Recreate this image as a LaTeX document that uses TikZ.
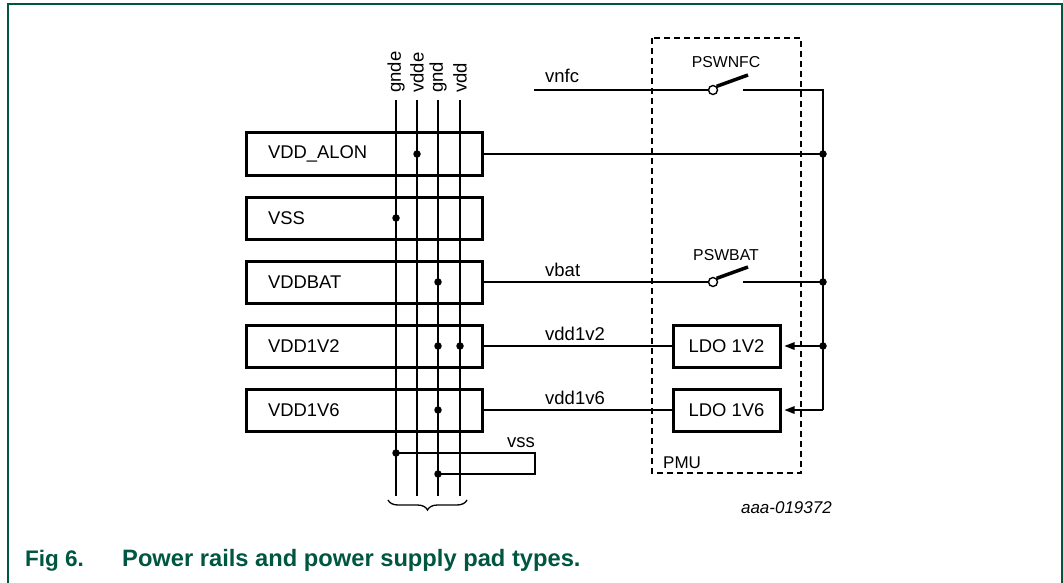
\documentclass[tikz,border=0pt]{standalone}
\usepackage{fontspec}
\setmainfont{Liberation Sans}
\usetikzlibrary{arrows.meta,decorations.pathreplacing}
\definecolor{nxpgreen}{RGB}{0,86,64}
\begin{document}
\begin{tikzpicture}[x=1pt,y=-1pt,
  padbox/.style={draw,line width=3pt,minimum width=236pt,minimum height=42pt,inner xsep=22pt,text width=192pt,align=left,font=\fontsize{18.4}{20}\selectfont},
  ldobox/.style={draw,line width=3pt,minimum width=107pt,minimum height=42pt,font=\fontsize{18.4}{20}\selectfont},
  wire/.style={line width=1.4pt},
  lbl/.style={inner sep=0pt,font=\fontsize{18.5}{20}\selectfont},
  slbl/.style={inner sep=0pt,font=\fontsize{15.8}{18}\selectfont},
  dot/.style={circle,fill,inner sep=0pt,minimum size=7.5pt},
  arr/.style={wire,-{Triangle[length=10pt,width=7.5pt]},shorten >=3pt}
]
\useasboundingbox (0,0) rectangle (1063,583);
% frame
\draw[nxpgreen,line width=2pt] (8.3,590) -- (8.3,4.3) -- (1062,4.3) -- (1062,590);

% rails
\foreach \n/\x/\t in {gnde/396/gnde, vdde/417/vdde, gnd/438/gnd, vdd/460/vdd}{
  \coordinate (\n top) at (\x,100);
  \coordinate (\n bot) at (\x,496);
  \node[lbl,rotate=90,anchor=west] (\n lab) at (\x,93) {\t};
}

% pad boxes
\node[padbox] (alon) at (364,154) {VDD\_ALON};
\node[padbox] (vssb) at (364,218) {VSS};
\node[padbox] (bat) at (364,282) {VDDBAT};
\node[padbox] (v12) at (364,346) {VDD1V2};
\node[padbox] (v16) at (364,410) {VDD1V6};

% rails cross the boxes
\foreach \n in {gnde,vdde,gnd,vdd}{ \draw[wire] (\n top) -- (\n bot); }

% dots on rails
\node[dot] (d1) at (417,154) {};
\node[dot] (d2) at (396,218) {};
\node[dot] (d3) at (438,282) {};
\node[dot] (d4) at (438,346) {};
\node[dot] (d5) at (460,346) {};
\node[dot] (d6) at (438,410) {};
\node[dot] (d7) at (396,453) {};
\node[dot] (d8) at (438,474) {};

% vss loop
\coordinate (vs1) at (535,453);
\coordinate (vs2) at (535,474);
\draw[wire] (d7.center) -- (vs1) -- (vs2) -- (d8.center);
\node[lbl,anchor=base west] (vsslab) at (507,447) {vss};

% brace
\draw[line width=1.3pt,decorate,decoration={brace,mirror,amplitude=10pt}] (388,500) -- (467,500);

% PMU box
\draw[wire,dash pattern=on 6pt off 4pt] (652,38) rectangle (801,473);
\node[inner sep=0pt,anchor=base west,font=\fontsize{17}{18}\selectfont] (pmu) at (663,468) {PMU};

% right bus
\coordinate (bustop) at (823,90);
\coordinate (busbot) at (823,410);
\node[dot] (b1) at (823,154) {};
\node[dot] (b2) at (823,282) {};
\node[dot] (b3) at (823,346) {};

% NFC switch
\coordinate (vnfcstart) at (534,90);
\node[circle,draw,line width=1.4pt,fill=white,inner sep=0pt,minimum size=9pt] (swn) at (713,90) {};
\coordinate (swnend) at (748,75);
\coordinate (swnout) at (743,90);
\draw[wire] (vnfcstart) -- (swn.west);
\draw[line width=3.5pt] (swn.north east) -- (swnend);
\draw[wire] (swnout) -- (bustop) -- (busbot);
\node[lbl,anchor=base west] (vnfclab) at (545,83) {vnfc};
\node[slbl,anchor=base] (pswnfc) at (726,68) {PSWNFC};

% VDD_ALON line
\draw[wire] (alon.east) -- (b1.center);

% BAT switch
\node[circle,draw,line width=1.4pt,fill=white,inner sep=0pt,minimum size=9pt] (swb) at (713,282) {};
\coordinate (swbend) at (748,267);
\coordinate (swbout) at (743,282);
\draw[wire] (bat.east) -- (swb.west);
\draw[line width=3.5pt] (swb.north east) -- (swbend);
\draw[wire] (swbout) -- (b2.center);
\node[lbl,anchor=base west] (vbatlab) at (545,276) {vbat};
\node[slbl,anchor=base] (pswbat) at (726,260) {PSWBAT};

% LDOs
\node[ldobox] (ldo12) at (726.5,346) {LDO 1V2};
\node[ldobox] (ldo16) at (726.5,410) {LDO 1V6};
\draw[wire] (v12.east) -- (ldo12.west);
\draw[wire] (v16.east) -- (ldo16.west);
\draw[arr] (b3.center) -- (ldo12.east);
\draw[arr] (busbot) -- (ldo16.east);
\node[lbl,anchor=base west] (l12) at (545,340) {vdd1v2};
\node[lbl,anchor=base west] (l16) at (545,404) {vdd1v6};

% figure id
\node[inner sep=0pt,anchor=base east,font=\fontsize{17}{18}\selectfont\itshape] (figid) at (832,513) {aaa-019372};

% caption
\node[inner sep=0pt,anchor=base west,text=nxpgreen,font=\fontsize{22.5}{24}\selectfont\bfseries] (figno) at (25,566) {Fig 6.};
\node[inner sep=0pt,anchor=base west,text=nxpgreen,font=\fontsize{23.7}{25}\selectfont\bfseries] (captxt) at (122,566) {Power rails and power supply pad types.};
\end{tikzpicture}
\end{document}
